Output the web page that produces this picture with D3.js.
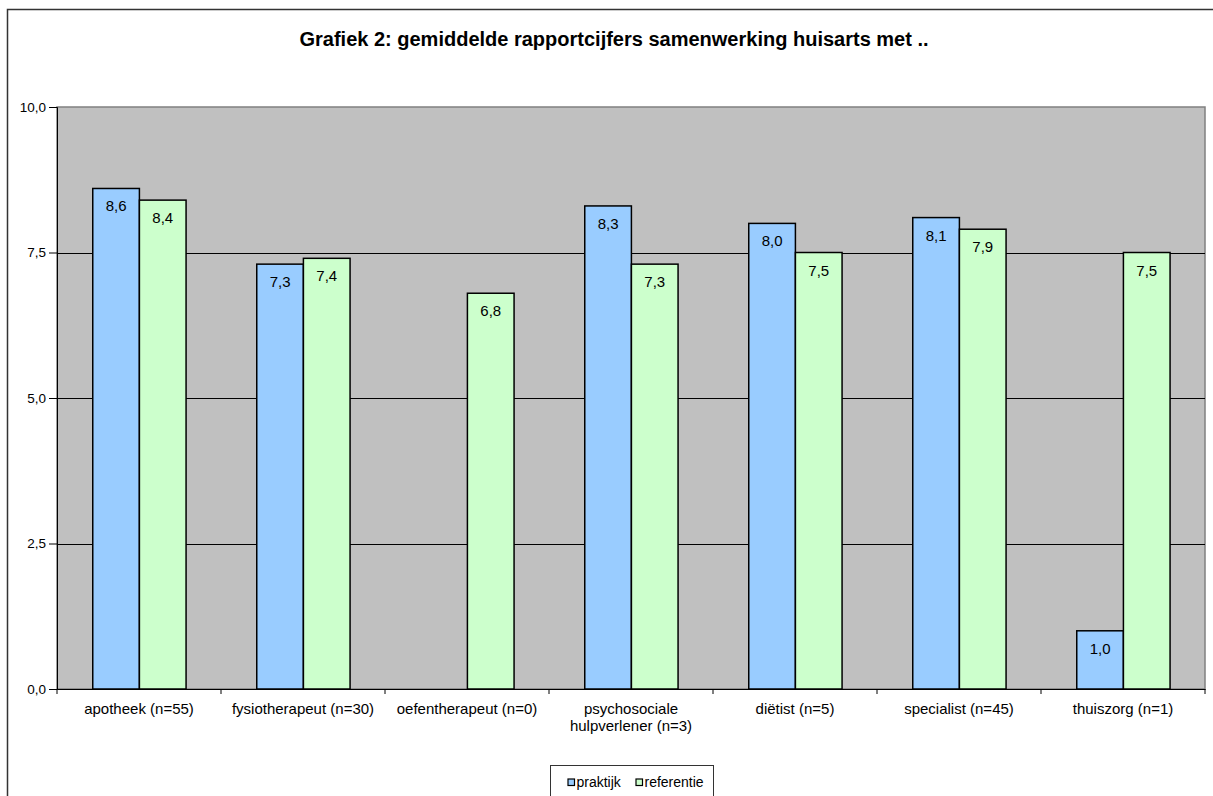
<!DOCTYPE html>
<html lang="nl">
<head>
<meta charset="UTF-8">
<title>Grafiek 2</title>
<script src="https://d3js.org/d3.v7.min.js"></script>
<style>
  body { margin: 0; background: #fff; }
  svg { display: block; font-family: "Liberation Sans", Arial, sans-serif; }
</style>
</head>
<body>
<div id="chart"></div>
<script>
// data
const categories = ["apotheek (n=55)", "fysiotherapeut (n=30)", "oefentherapeut (n=0)",
  "psychosociale\nhulpverlener (n=3)", "diëtist (n=5)", "specialist (n=45)", "thuiszorg (n=1)"];
const series = ["praktijk", "referentie"];
const praktijk = [8.6, 7.3, null, 8.3, 8.0, 8.1, 1.0];
const referentie = [8.4, 7.4, 6.8, 7.3, 7.5, 7.9, 7.5];
const yTicks = [0, 2.5, 5, 7.5, 10];
const colors = { praktijk: "#99ccff", referentie: "#ccffcc" };

const W = 1213, H = 796;
const plot = { left: 57, right: 1205, top: 107, bottom: 689 };

const svg = d3.select("#chart").append("svg")
  .attr("width", W).attr("height", H);

// outer chart frame (runs off the right and bottom)
svg.append("path")
  .attr("d", `M7.5,${H + 5} V9.5 H${W + 5}`)
  .attr("fill", "none").attr("stroke", "#333").attr("stroke-width", 1.5);

svg.append("text")
  .attr("x", 614).attr("y", 46)
  .attr("text-anchor", "middle")
  .attr("font-size", 20).attr("font-weight", "bold")
  .text("Grafiek 2: gemiddelde rapportcijfers samenwerking huisarts met ..");

const x0 = d3.scaleBand().domain(categories).range([plot.left, plot.right]);
const bw = x0.bandwidth();
const x1 = d3.scaleBand().domain(series).range([bw * 0.218, bw * 0.787]);
const y = d3.scaleLinear().domain([0, 10]).range([plot.bottom, plot.top]);

// plot background
svg.append("rect")
  .attr("x", plot.left).attr("y", plot.top)
  .attr("width", plot.right - plot.left).attr("height", plot.bottom - plot.top)
  .attr("fill", "#c0c0c0").attr("stroke", "#808080").attr("stroke-width", 1.5);

// gridlines
svg.append("g").selectAll("line")
  .data(yTicks.filter(d => d > 0 && d < 10))
  .join("line")
  .attr("x1", plot.left).attr("x2", plot.right)
  .attr("y1", d => Math.round(y(d)) + 0.5).attr("y2", d => Math.round(y(d)) + 0.5)
  .attr("stroke", "#000").attr("stroke-width", 1);

// bars
const rows = categories.map((c, i) => ({ cat: c, praktijk: praktijk[i], referentie: referentie[i] }));
const fmt = v => d3.format(".1f")(v).replace(".", ",");

const groups = svg.append("g").selectAll("g")
  .data(rows).join("g")
  .attr("transform", d => `translate(${x0(d.cat)},0)`);

const cells = groups.selectAll("g")
  .data(d => series.map(s => ({ s, v: d[s] })).filter(e => e.v != null))
  .join("g");

cells.append("rect")
  .attr("x", d => x1(d.s)).attr("width", x1.bandwidth())
  .attr("y", d => y(d.v)).attr("height", d => y(0) - y(d.v))
  .attr("fill", d => colors[d.s])
  .attr("stroke", "#000").attr("stroke-width", 1.5);

cells.append("text")
  .attr("x", d => x1(d.s) + x1.bandwidth() / 2)
  .attr("y", d => y(d.v) + 23)
  .attr("text-anchor", "middle")
  .attr("font-size", 15)
  .text(d => fmt(d.v));

// y axis
const yAxis = svg.append("g")
  .attr("transform", `translate(${plot.left},0)`)
  .call(d3.axisLeft(y).tickValues(yTicks).tickSize(8).tickPadding(3).tickFormat(fmt));
yAxis.select(".domain").attr("stroke", "#000");
yAxis.selectAll("line").attr("stroke", "#000");
yAxis.selectAll("text").attr("font-size", 13.5).attr("font-family", "Liberation Sans, Arial, sans-serif");

// x axis
const xAxis = svg.append("g")
  .attr("transform", `translate(0,${plot.bottom})`)
  .call(d3.axisBottom(x0).tickSize(0).tickFormat(""));
xAxis.select(".domain").attr("stroke", "#000");
xAxis.selectAll(".tick").remove();
xAxis.selectAll("line.sep")
  .data(d3.range(categories.length + 1))
  .join("line")
  .attr("class", "sep")
  .attr("x1", i => plot.left + i * bw).attr("x2", i => plot.left + i * bw)
  .attr("y1", 0).attr("y2", 5)
  .attr("stroke", "#000");

svg.append("g").selectAll("text")
  .data(categories).join("text")
  .attr("x", d => x0(d) + bw / 2)
  .attr("y", plot.bottom + 25)
  .attr("text-anchor", "middle")
  .attr("font-size", 15)
  .each(function (d) {
    d.split("\n").forEach((line, i) => {
      d3.select(this).append("tspan")
        .attr("x", x0(d) + bw / 2).attr("dy", i ? 16.5 : 0).text(line);
    });
  });

// legend
const lg = svg.append("g").attr("transform", "translate(550.5,765.5)");
lg.append("rect").attr("width", 163).attr("height", 40)
  .attr("fill", "#fff").attr("stroke", "#333");
const li = lg.selectAll("g").data(series).join("g")
  .attr("transform", (d, i) => `translate(${17.5 + i * 68},13.5)`);
li.append("rect").attr("width", 6.5).attr("height", 6.5)
  .attr("fill", d => colors[d]).attr("stroke", "#000").attr("stroke-width", 1.2);
li.append("text").attr("x", 8.5).attr("y", 8)
  .attr("font-size", 14).text(d => d);
</script>
</body>
</html>
